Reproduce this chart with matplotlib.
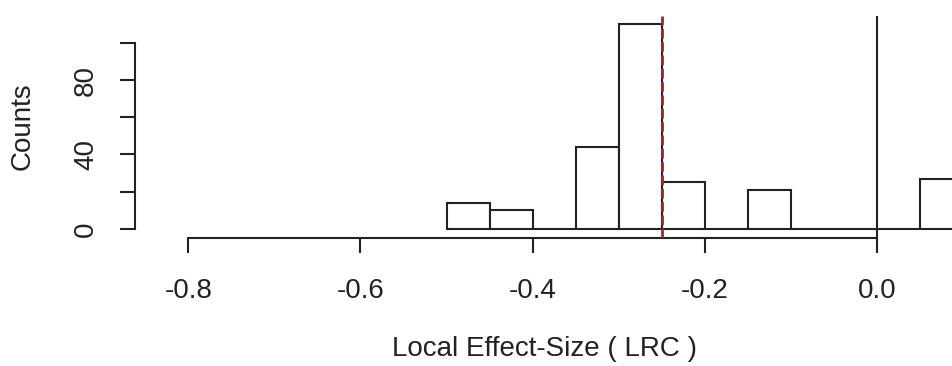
import numpy as np
import matplotlib.pyplot as plt

# histogram of local effect sizes, 0.05 wide bins
bin_left = [-0.50, -0.45, -0.40, -0.35, -0.30, -0.25, -0.20, -0.15, -0.10, -0.05, 0.00, 0.05]
counts = [14, 10, 0, 44, 110, 25, 0, 21, 0, 0, 0, 27]
bin_width = 0.05

x_ticks = [-0.8, -0.6, -0.4, -0.2, 0.0]
x_ticklabels = ["-0.8", "-0.6", "-0.4", "-0.2", "0.0"]
y_ticks = [0, 20, 40, 60, 80, 100]
y_ticklabels = ["0", "", "40", "", "80", ""]

mean_lrc = -0.25

plt.rcParams["font.family"] = ["Liberation Sans", "DejaVu Sans"]

fig = plt.figure(figsize=(9.53, 3.66), dpi=100)
ax = fig.add_axes([135 / 953, 128.5 / 366, 1 - 135 / 953, 350.5 / 366 - 128.5 / 366])

ax.bar(bin_left, counts, width=bin_width, align="edge", facecolor="white",
       edgecolor="#222222", linewidth=1.5, zorder=2)

ax.axvline(0.0, color="#222222", linewidth=1.5, zorder=3)
ax.axvline(mean_lrc, color="#A0262A", linewidth=2.0, linestyle=(0, (3.5, 1.3)), zorder=4)

ax.set_xlim(-0.862, 0.0885)
ax.set_ylim(-4.7, 114.8)

for s in ["top", "right"]:
    ax.spines[s].set_visible(False)
ax.spines["left"].set_bounds(0, 100)
ax.spines["bottom"].set_bounds(-0.8, 0.0)
for s in ["left", "bottom"]:
    ax.spines[s].set_linewidth(1.5)
    ax.spines[s].set_color("#222222")

ax.set_xticks(x_ticks)
ax.set_xticklabels(x_ticklabels)
ax.set_yticks(y_ticks)
ax.set_yticklabels(y_ticklabels, rotation=90, va="center")
ax.tick_params(axis="both", direction="out", length=11, width=1.5, color="#222222",
               labelsize=20, labelcolor="#222222")
ax.tick_params(axis="x", pad=18)
ax.tick_params(axis="y", pad=15)

ax.set_xlabel("Local Effect-Size ( LRC )", fontsize=20, color="#222222", labelpad=23)
ax.set_ylabel("Counts", fontsize=20, color="#222222", labelpad=27)

fig.savefig("out.png", dpi=100)
